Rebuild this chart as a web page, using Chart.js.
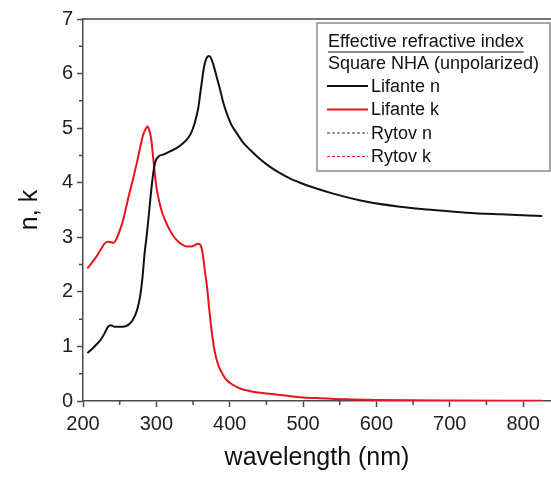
<!DOCTYPE html>
<html lang="en">
<head>
<meta charset="UTF-8">
<title>Effective refractive index</title>
<script src="https://cdn.jsdelivr.net/npm/chart.js@4.4.0/dist/chart.umd.min.js"></script>
<style>
  html, body { margin: 0; padding: 0; background: #fff; }
  #wrap { width: 551px; height: 479px; }
</style>
</head>
<body>
<div id="wrap"><canvas id="nk" width="551" height="479"></canvas></div>
<script>
// Lifante n (real part)
const nWl  = [206, 212, 218, 224, 229, 234, 238, 243, 250, 258, 264, 268, 272, 275, 278, 281, 284, 287, 290, 293, 296, 299, 303, 310, 318, 327, 336, 342, 347, 352, 357, 361, 365, 368, 372, 375, 378, 382, 387, 391, 396, 402, 410, 418, 428, 440, 455, 468, 482, 496, 510, 541, 587, 632, 678, 723, 769, 826];
const nVal = [0.88, 0.95, 1.03, 1.12, 1.23, 1.36, 1.39, 1.36, 1.36, 1.37, 1.42, 1.49, 1.6, 1.73, 1.93, 2.25, 2.71, 3.05, 3.45, 3.86, 4.2, 4.4, 4.48, 4.52, 4.57, 4.63, 4.72, 4.8, 4.9, 5.08, 5.36, 5.75, 6.12, 6.27, 6.32, 6.27, 6.15, 5.95, 5.7, 5.48, 5.27, 5.07, 4.9, 4.74, 4.6, 4.45, 4.29, 4.18, 4.08, 4.0, 3.93, 3.8, 3.65, 3.56, 3.5, 3.45, 3.42, 3.39];

// Lifante k (imaginary part)
const kWl  = [206, 212, 218, 224, 229, 233, 238, 242, 246, 250, 254, 258, 262, 266, 270, 274, 278, 282, 286, 288, 290, 293, 296, 300, 304, 308, 313, 318, 324, 330, 336, 342, 348, 353, 357, 360, 362, 364, 366, 369, 372, 375, 378, 381, 385, 390, 396, 405, 414, 428, 442, 469, 496, 523, 560, 600, 700, 826];
const kVal = [2.43, 2.53, 2.64, 2.77, 2.88, 2.92, 2.91, 2.9, 2.98, 3.12, 3.28, 3.5, 3.74, 3.95, 4.17, 4.4, 4.65, 4.88, 5.0, 5.03, 4.98, 4.8, 4.41, 3.93, 3.65, 3.45, 3.28, 3.14, 3.01, 2.92, 2.86, 2.83, 2.83, 2.86, 2.88, 2.86, 2.78, 2.62, 2.4, 2.1, 1.7, 1.32, 1.03, 0.82, 0.64, 0.5, 0.38, 0.29, 0.23, 0.18, 0.15, 0.11, 0.07, 0.05, 0.03, 0.02, 0.01, 0.005];

const xTicks = [200, 300, 400, 500, 600, 700, 800];
const yTicks = [0, 1, 2, 3, 4, 5, 6, 7];

const legendTitle = ['Effective refractive index', 'Square NHA (unpolarized)'];

const FONT = '"Liberation Sans", Arial, sans-serif';
const AXIS = '#4a4a4a';

function pts(xs, ys) {
  return xs.map((x, i) => ({ x: x, y: ys[i] }));
}

// minor ticks, top frame line and the boxed legend
const extras = {
  id: 'extras',
  afterDraw(chart) {
    const ctx = chart.ctx;
    const a = chart.chartArea;
    const xs = chart.scales.x, ys = chart.scales.y;
    ctx.save();
    ctx.strokeStyle = AXIS;
    ctx.lineWidth = 1.5;
    ctx.beginPath();
    ctx.moveTo(a.left, a.top);
    ctx.lineTo(a.right, a.top);
    for (let v = 250; v < xs.max; v += 100) {
      const px = xs.getPixelForValue(v);
      ctx.moveTo(px, a.bottom);
      ctx.lineTo(px, a.bottom + 4);
    }
    for (let v = 0.5; v < ys.max; v += 1) {
      const py = ys.getPixelForValue(v);
      ctx.moveTo(a.left, py);
      ctx.lineTo(a.left - 4, py);
    }
    ctx.stroke();

    // legend box
    const bx = a.right - 234, by = a.top + 4, bw = 233, bh = 148;
    ctx.fillStyle = '#fff';
    ctx.fillRect(bx, by, bw, bh);
    ctx.strokeStyle = '#8a8a8a';
    ctx.lineWidth = 1.5;
    ctx.strokeRect(bx, by, bw, bh);

    ctx.fillStyle = '#111';
    ctx.font = '18px ' + FONT;
    ctx.textBaseline = 'middle';
    ctx.textAlign = 'left';
    ctx.fillText(legendTitle[0], bx + 11, by + 19);
    const tw = ctx.measureText(legendTitle[0]).width;
    ctx.lineWidth = 1;
    ctx.strokeStyle = '#111';
    ctx.beginPath();
    ctx.moveTo(bx + 11, by + 29);
    ctx.lineTo(bx + 11 + tw, by + 29);
    ctx.stroke();
    ctx.fillText(legendTitle[1], bx + 11, by + 41);

    chart.data.datasets.forEach((ds, i) => {
      const cy = by + 63 + i * 23.5;
      ctx.strokeStyle = ds.borderColor;
      ctx.lineWidth = ds.borderDash ? 1.2 : 2;
      ctx.setLineDash(ds.borderDash || []);
      ctx.beginPath();
      ctx.moveTo(bx + 10, cy);
      ctx.lineTo(bx + 51, cy);
      ctx.stroke();
      ctx.setLineDash([]);
      ctx.fillStyle = '#111';
      ctx.fillText(ds.label, bx + 54, cy + 1);
    });
    ctx.restore();
  }
};

new Chart(document.getElementById('nk'), {
  type: 'line',
  data: {
    datasets: [
      { label: 'Lifante n', data: pts(nWl, nVal), borderColor: '#111', borderWidth: 2 },
      { label: 'Lifante k', data: pts(kWl, kVal), borderColor: '#e8141c', borderWidth: 2 },
      { label: 'Rytov n', data: [], borderColor: '#333', borderWidth: 1, borderDash: [3, 2] },
      { label: 'Rytov k', data: [], borderColor: '#e8141c', borderWidth: 1, borderDash: [3, 2] }
    ]
  },
  options: {
    responsive: false,
    animation: false,
    events: [],
    cubicInterpolationMode: 'monotone',
    elements: { point: { radius: 0 } },
    layout: { padding: { top: 19, right: 0, left: 0, bottom: 0 } },
    plugins: { legend: { display: false }, tooltip: { enabled: false } },
    scales: {
      x: {
        type: 'linear',
        min: 200,
        max: 838,
        afterBuildTicks: s => { s.ticks = xTicks.map(v => ({ value: v })); },
        afterFit: s => { s.height = 78; },
        border: { color: AXIS, width: 1.5 },
        grid: { drawOnChartArea: false, tickLength: 6, tickWidth: 1.5, color: AXIS },
        ticks: { color: '#222', font: { family: FONT, size: 20 }, padding: 5, maxRotation: 0 },
        title: { display: true, text: 'wavelength (nm)', color: '#111', font: { family: FONT, size: 25 }, padding: { top: 0, bottom: 6 } }
      },
      y: {
        min: 0,
        max: 7,
        afterBuildTicks: s => { s.ticks = yTicks.map(v => ({ value: v })); },
        afterFit: s => { s.width = 83; },
        border: { color: AXIS, width: 1.5 },
        grid: { drawOnChartArea: false, tickLength: 6, tickWidth: 1.5, color: AXIS },
        ticks: { color: '#222', font: { family: FONT, size: 20 }, padding: 4 },
        title: { display: true, text: 'n, k', color: '#111', font: { family: FONT, size: 25 }, padding: { top: 15, bottom: 0 } }
      }
    }
  },
  plugins: [extras]
});
</script>
</body>
</html>
